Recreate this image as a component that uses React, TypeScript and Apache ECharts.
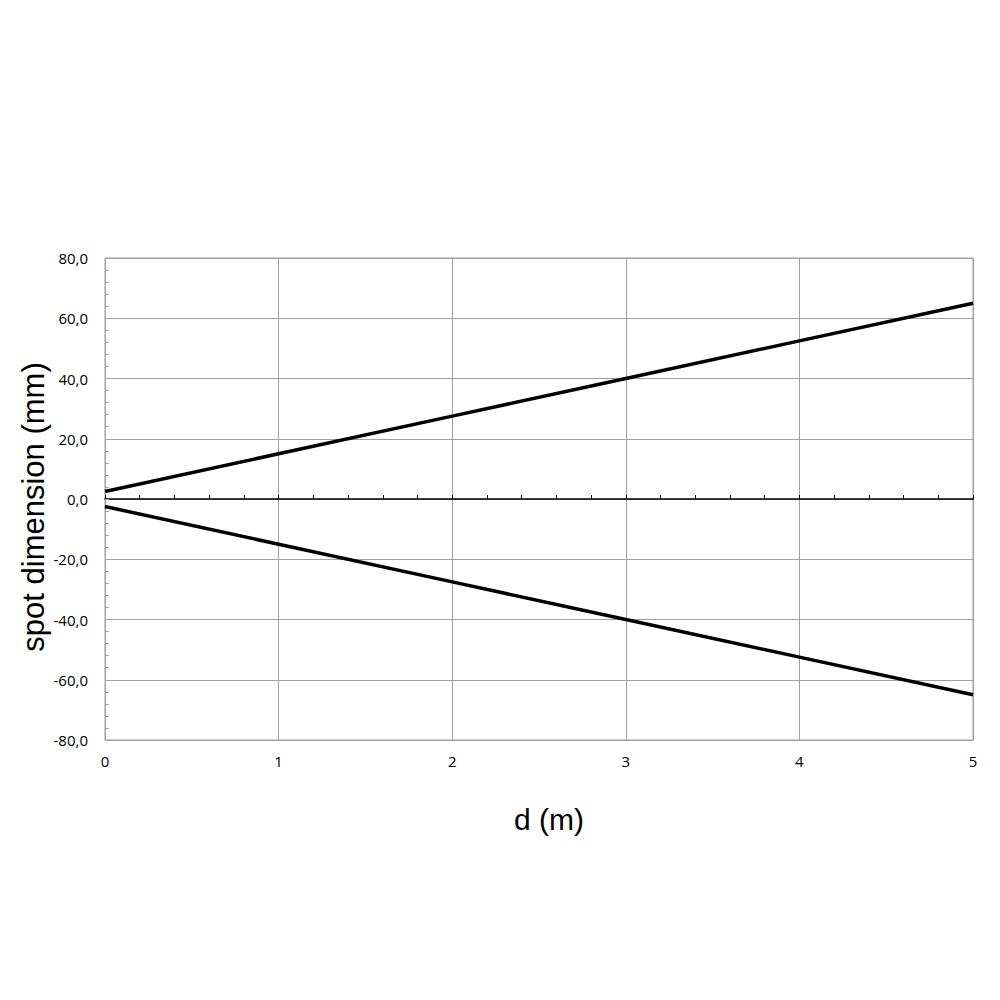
import React, { useEffect, useRef } from "react";
import * as echarts from "echarts";

const distances = [0, 1, 2, 3, 4, 5];
const upperEdge = [2.5, 15, 27.5, 40, 52.5, 65];
const lowerEdge = [-2.5, -15, -27.5, -40, -52.5, -65];
const xTitle = "d (m)";
const yTitle = "spot dimension (mm)";

const GRAY = "#a0a0a0";

export default function App() {
  const ref = useRef<HTMLDivElement>(null);
  useEffect(() => {
    if (!ref.current) return;
    const chart = echarts.init(ref.current, null, { renderer: "svg" });
    const labelFont = { fontFamily: "Open Sans", fontSize: 15, color: "#000" };
    chart.setOption({
      animation: false,
      backgroundColor: "#fff",
      grid: {
        left: 105,
        right: 27,
        top: 258,
        bottom: 260,
        show: true,
        borderColor: GRAY,
        borderWidth: 1,
        backgroundColor: "transparent",
      },
      xAxis: [
        {
          type: "value",
          min: 0,
          max: 5,
          interval: 1,
          axisLine: { show: false, onZero: false },
          axisTick: { show: false },
          axisLabel: { ...labelFont, margin: 13 },
          splitLine: { show: true, lineStyle: { color: GRAY, width: 1 } },
        },
        {
          type: "value",
          position: "bottom",
          min: 0,
          max: 5,
          interval: 1,
          axisLine: { show: true, onZero: true, lineStyle: { color: "#000", width: 1.5 } },
          axisTick: { show: true, inside: true, length: 4, lineStyle: { color: "#000", width: 1 } },
          minorTick: { show: true, splitNumber: 5, length: 4, lineStyle: { color: "#000", width: 1 } },
          axisLabel: { show: false },
          splitLine: { show: false },
        },
      ],
      yAxis: {
        type: "value",
        min: -80,
        max: 80,
        interval: 20,
        axisLine: { show: true, lineStyle: { color: GRAY, width: 1 } },
        axisTick: { show: true, inside: true, length: 4, lineStyle: { color: GRAY } },
        minorTick: { show: true, splitNumber: 5, length: 4, lineStyle: { color: GRAY } },
        axisLabel: {
          ...labelFont,
          margin: 17,
          formatter: (v: number) => v.toFixed(1).replace(".", ","),
        },
        splitLine: { show: true, lineStyle: { color: GRAY, width: 1 } },
      },
      graphic: [
        {
          type: "text",
          x: 33,
          y: 507,
          rotation: Math.PI / 2,
          style: {
            text: yTitle,
            fontFamily: "Liberation Sans",
            fontSize: 31,
            fill: "#000",
            align: "center",
            verticalAlign: "middle",
          },
        },
        {
          type: "text",
          x: 549,
          y: 819,
          style: {
            text: xTitle,
            fontFamily: "Liberation Sans",
            fontSize: 30,
            fill: "#000",
            align: "center",
            verticalAlign: "middle",
          },
        },
      ],
      series: [
        {
          type: "line",
          xAxisIndex: 0,
          data: distances.map((d, i) => [d, upperEdge[i]]),
          showSymbol: false,
          symbol: "none",
          lineStyle: { color: "#000", width: 3.5 },
        },
        {
          type: "line",
          xAxisIndex: 0,
          data: distances.map((d, i) => [d, lowerEdge[i]]),
          showSymbol: false,
          symbol: "none",
          lineStyle: { color: "#000", width: 3.5 },
        },
      ],
    });
    return () => chart.dispose();
  }, []);
  return (
    <div
      ref={ref}
      style={{ position: "absolute", left: 0, top: 0, width: 1000, height: 1000 }}
    />
  );
}
